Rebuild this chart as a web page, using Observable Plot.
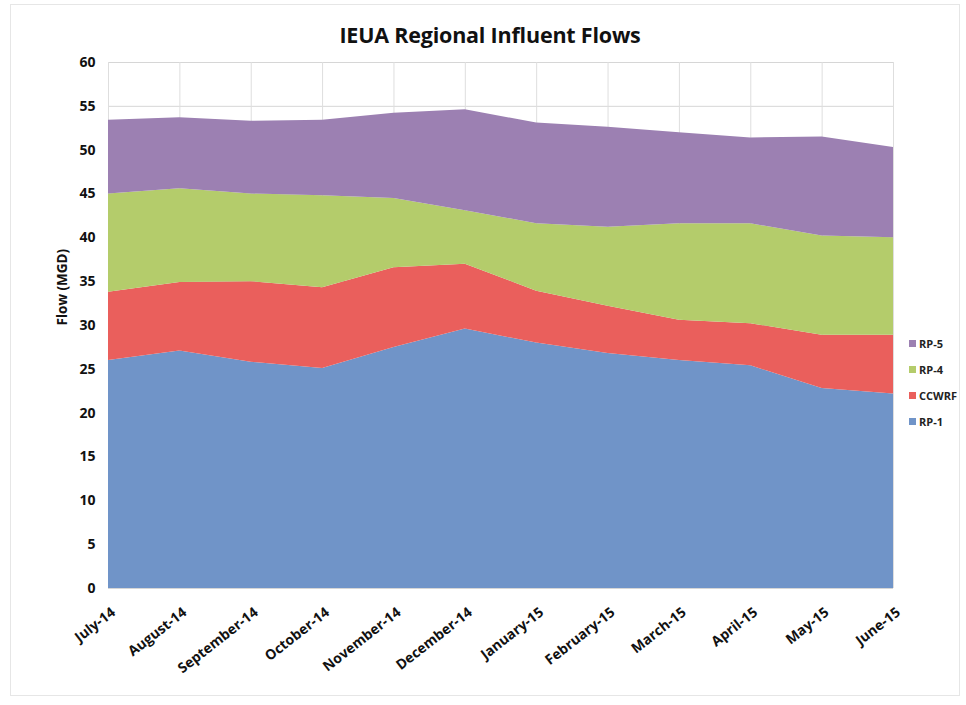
<!DOCTYPE html>
<html>
<head>
<meta charset="utf-8">
<script src="https://cdn.jsdelivr.net/npm/d3@7"></script>
<script src="https://cdn.jsdelivr.net/npm/@observablehq/plot@0.6"></script>
<style>
  html, body { margin: 0; padding: 0; background: #fff; }
  #wrap { position: relative; width: 966px; height: 705px; overflow: hidden; font-family: "Open Sans", sans-serif; }
  #frame { position: absolute; left: 10px; top: 4px; width: 950px; height: 692px; border: 1px solid #e6e6e6; box-sizing: border-box; pointer-events: none; }
  #title { height: 50px; line-height: 50px; padding-top: 10px; box-sizing: border-box; text-align: center; font-weight: 700; font-size: 21.5px; color: #111; padding-left: 14px; letter-spacing: -0.2px; }
  #legend { position: absolute; left: 909px; top: 331px; font-size: 11px; font-weight: 700; color: #222; }
  #legend .item { display: flex; align-items: center; height: 25.8px; }
  #legend .sw { width: 7px; height: 7px; margin-right: 3px; }
</style>
</head>
<body>
<div id="wrap">
  <div id="frame"></div>
  <div id="title">IEUA Regional Influent Flows</div>
  <div id="chart"></div>
  <div id="legend"></div>
</div>
<script>
const months = ["July-14","August-14","September-14","October-14","November-14","December-14","January-15","February-15","March-15","April-15","May-15","June-15"];
const seriesNames = ["RP-1","CCWRF","RP-4","RP-5"];
const seriesColors = ["#7094c8","#ea5f5c","#b4cc6b","#9c80b2"];
const rp1   = [26.0, 27.1, 25.8, 25.1, 27.5, 29.6, 28.0, 26.8, 26.0, 25.4, 22.8, 22.2];
const ccwrf = [7.8, 7.8, 9.2, 9.2, 9.1, 7.4, 5.9, 5.4, 4.6, 4.8, 6.1, 6.7];
const rp4   = [11.2, 10.7, 10.0, 10.5, 7.9, 6.1, 7.7, 9.0, 11.0, 11.4, 11.3, 11.1];
const rp5   = [8.4, 8.1, 8.3, 8.6, 9.7, 11.5, 11.5, 11.4, 10.4, 9.8, 11.3, 10.3];
const yTicks = [0,5,10,15,20,25,30,35,40,45,50,55,60];

const valuesBySeries = [rp1, ccwrf, rp4, rp5];
const data = [];
seriesNames.forEach((s, k) => {
  valuesBySeries[k].forEach((v, i) => data.push({i, month: months[i], series: s, value: v}));
});

const font = "'Open Sans', sans-serif";
const chart = Plot.plot({
  width: 966,
  height: 655,
  marginTop: 12,
  marginBottom: 117,
  marginLeft: 108,
  marginRight: 73,
  style: {fontFamily: font, background: "transparent"},
  x: {domain: [0, months.length - 1], ticks: months.map((m, i) => i)},
  y: {domain: [0, 60], ticks: yTicks},
  color: {domain: seriesNames, range: seriesColors},
  marks: [
    Plot.gridY(yTicks, {stroke: "#d6d6d6", strokeOpacity: 1}),
    Plot.gridX(months.map((m, i) => i), {stroke: "#dedede", strokeOpacity: 1}),
    Plot.areaY(data, {x: "i", y: "value", fill: "series", z: "series", order: seriesNames, curve: "linear"}),
    Plot.axisY(yTicks, {tickSize: 0, tickPadding: 13, fontSize: 14, fontWeight: 700, fill: "#111", label: null}),
    Plot.axisX(months.map((m, i) => i), {tickSize: 0, tickPadding: 22, dx: 5, tickRotate: -38, textAnchor: "end", fontSize: 14, fontWeight: 700, fill: "#111", tickFormat: i => months[i], label: null}),
    Plot.text(["Flow (MGD)"], {frameAnchor: "left", dx: -46, rotate: -90, fontSize: 13.5, fontWeight: 700, fill: "#111"})
  ]
});
document.getElementById("chart").appendChild(chart);

const legend = document.getElementById("legend");
seriesNames.slice().reverse().forEach(s => {
  const k = seriesNames.indexOf(s);
  const item = document.createElement("div");
  item.className = "item";
  const sw = document.createElement("span");
  sw.className = "sw";
  sw.style.background = seriesColors[k];
  const lab = document.createElement("span");
  lab.textContent = s;
  item.appendChild(sw);
  item.appendChild(lab);
  legend.appendChild(item);
});
</script>
</body>
</html>
